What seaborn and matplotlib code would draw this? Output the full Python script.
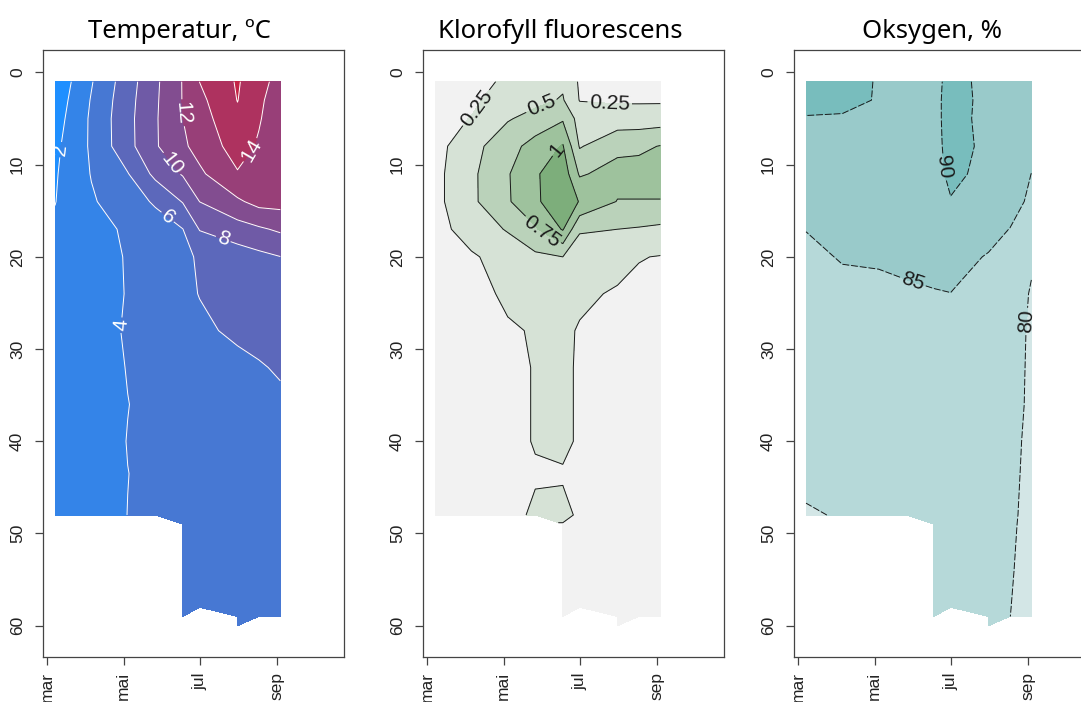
import numpy as np
import matplotlib
matplotlib.use("Agg")
import matplotlib.pyplot as plt
import seaborn as sns

N = np.nan

# sampling dates as month number (3 = 1 March) and sampling depths (m)
sample_month = [3.21, 4.16, 5.11, 5.83, 6.55, 6.99, 7.98, 8.54, 9.10]
depth = [1, 3, 5, 8, 11, 14, 17, 20, 24, 28, 32, 36, 40, 43.5, 48, 49, 54, 58, 59, 60]
month_ticks = [3, 5, 7, 9]
month_labels = ["mar", "mai", "jul", "sep"]
depth_ticks = [0, 10, 20, 30, 40, 50, 60]

# rows = depth, columns = sampling date
temperature = [
    [0.50, 3.86, 7.10, 9.60, 12.10, 14.02, 16.20, 14.70, 13.27],
    [0.82, 4.13, 7.30, 9.70, 12.08, 13.50, 16.05, 14.42, 12.77],
    [1.13, 4.30, 7.42, 9.78, 12.00, 13.13, 15.60, 14.17, 12.73],
    [1.56, 4.28, 7.36, 9.78, 11.67, 12.69, 14.86, 13.77, 12.70],
    [1.81, 4.09, 5.90, 8.50, 10.17, 11.65, 13.85, 13.40, 12.80],
    [1.95, 3.78, 5.14, 6.23, 8.11, 10.02, 11.69, 12.64, 12.70],
    [2.30, 3.28, 4.30, 5.14, 5.97, 8.10, 9.14, 9.72, 10.30],
    [2.40, 3.25, 4.12, 4.91, 5.71, 6.16, 7.02, 7.50, 7.97],
    [2.50, 3.28, 4.08, 4.86, 5.63, 6.05, 6.60, 6.95, 7.30],
    [2.60, 3.37, 4.15, 4.74, 5.33, 5.70, 6.30, 6.50, 6.76],
    [2.70, 3.38, 4.05, 4.42, 4.80, 5.04, 5.57, 5.87, 6.17],
    [2.80, 3.35, 3.98, 4.30, 4.60, 4.80, 5.20, 5.45, 5.70],
    [2.85, 3.40, 4.03, 4.25, 4.50, 4.70, 5.10, 5.30, 5.50],
    [2.90, 3.45, 3.99, 4.20, 4.45, 4.60, 4.95, 5.15, 5.35],
    [2.95, 3.50, 4.01, 4.20, 4.40, 4.55, 4.90, 5.10, 5.30],
    [N, N, N, N, 4.40, 4.55, 4.88, 5.08, 5.28],
    [N, N, N, N, 4.35, 4.50, 4.80, 5.00, 5.20],
    [N, N, N, N, 4.30, 4.45, 4.75, 4.95, 5.10],
    [N, N, N, N, 4.30, N, 4.75, 4.90, 5.10],
    [N, N, N, N, N, N, 4.70, N, N],
]

klorofyll = [
    [0.10, 0.15, 0.30, 0.38, 0.46, 0.22, 0.15, 0.15, 0.15],
    [0.12, 0.20, 0.38, 0.44, 0.52, 0.24, 0.22, 0.22, 0.22],
    [0.15, 0.26, 0.48, 0.58, 0.72, 0.40, 0.37, 0.37, 0.38],
    [0.16, 0.42, 0.65, 0.85, 1.02, 0.48, 0.68, 0.70, 0.76],
    [0.18, 0.45, 0.73, 0.97, 1.15, 0.72, 0.85, 0.85, 0.85],
    [0.18, 0.45, 0.72, 0.97, 1.12, 0.99, 0.74, 0.74, 0.74],
    [0.16, 0.36, 0.52, 0.72, 1.02, 0.52, 0.50, 0.48, 0.45],
    [0.14, 0.22, 0.35, 0.45, 0.50, 0.40, 0.35, 0.26, 0.24],
    [0.10, 0.15, 0.30, 0.30, 0.35, 0.30, 0.22, 0.20, 0.18],
    [0.10, 0.12, 0.22, 0.27, 0.30, 0.23, 0.15, 0.15, 0.15],
    [0.10, 0.10, 0.15, 0.27, 0.30, 0.22, 0.12, 0.12, 0.12],
    [0.10, 0.10, 0.15, 0.27, 0.30, 0.22, 0.12, 0.12, 0.12],
    [0.10, 0.10, 0.15, 0.27, 0.30, 0.22, 0.12, 0.12, 0.12],
    [0.10, 0.10, 0.15, 0.22, 0.23, 0.20, 0.12, 0.12, 0.12],
    [0.10, 0.10, 0.15, 0.30, 0.30, 0.22, 0.12, 0.12, 0.12],
    [N, N, N, N, 0.24, 0.20, 0.12, 0.12, 0.12],
    [N, N, N, N, 0.15, 0.15, 0.12, 0.12, 0.12],
    [N, N, N, N, 0.12, 0.12, 0.12, 0.12, 0.12],
    [N, N, N, N, 0.12, N, 0.12, 0.12, 0.12],
    [N, N, N, N, N, N, 0.12, N, N],
]

oksygen = [
    [91.5, 91.2, 89.77, 89.5, 89.6, 90.4, 89.67, 89.6, 89.5],
    [91.0, 90.8, 89.8, 89.5, 89.6, 90.5, 89.65, 89.6, 89.3],
    [89.8, 89.7, 89.2, 89.3, 89.6, 90.5, 89.6, 89.5, 88.8],
    [88.5, 88.5, 88.8, 89.0, 89.5, 90.5, 89.7, 89.3, 87.0],
    [87.8, 88.0, 88.4, 88.8, 89.3, 90.4, 89.5, 88.5, 84.95],
    [86.5, 87.0, 87.8, 88.3, 88.8, 89.9, 89.0, 87.0, 84.0],
    [85.1, 86.0, 86.8, 87.3, 87.5, 88.0, 86.5, 84.9, 82.5],
    [84.0, 85.3, 85.4, 85.8, 86.2, 86.5, 84.7, 83.0, 80.5],
    [83.0, 83.8, 84.2, 84.5, 84.8, 84.95, 84.2, 82.0, 79.7],
    [82.5, 83.0, 83.5, 83.8, 84.0, 84.2, 83.8, 81.5, 79.5],
    [82.0, 82.5, 83.0, 83.3, 83.5, 83.6, 83.4, 81.2, 79.5],
    [81.8, 82.0, 82.5, 83.0, 83.2, 83.2, 83.1, 81.0, 79.5],
    [81.5, 81.8, 82.2, 82.6, 82.8, 82.9, 82.8, 80.6, 79.5],
    [81.0, 81.5, 81.8, 82.3, 82.5, 82.6, 82.5, 80.45, 79.5],
    [79.6, 80.3, 81.5, 82.0, 82.2, 82.3, 82.2, 80.3, 79.5],
    [N, N, N, N, 82.2, 82.2, 82.1, 80.25, 79.5],
    [N, N, N, N, 82.0, 82.0, 82.0, 80.12, 79.5],
    [N, N, N, N, 81.8, 81.8, 81.8, 80.03, 79.5],
    [N, N, N, N, 81.8, N, 81.8, 80.01, 79.5],
    [N, N, N, N, N, N, 81.8, N, N],
]

temp_levels = [0, 2, 4, 6, 8, 10, 12, 14, 16, 18]
temp_colors = ["#1f8fff", "#3484e8", "#4778d3", "#5c68bb", "#6f5aa6",
               "#824d90", "#983f78", "#ae325f", "#c42345"]
chl_levels = [0, 0.25, 0.5, 0.75, 1.0, 1.25]
chl_colors = ["#f2f2f2", "#d6e2d6", "#bad2ba", "#9ec29d", "#7dae7b"]
oxy_levels = [75, 80, 85, 90, 95]
oxy_colors = ["#d3e6e6", "#b6d9d9", "#99caca", "#78bdbd"]

sns.set_theme(style="white")
plt.rcParams["font.family"] = ["Liberation Sans", "DejaVu Sans"]

W, H = 1081, 702
fig = plt.figure(figsize=(W / 100, H / 100), dpi=100)
fig.patch.set_facecolor("white")

X = np.array(sample_month)
Y = np.array(depth)

panels = [
    dict(data=temperature, levels=temp_levels, colors=temp_colors,
         lines=[2, 4, 6, 8, 10, 12, 14, 16], lcol="white", ls="solid",
         lab=[2, 4, 6, 8, 10, 12, 14],
         pos=[(3.42, 8.4), (4.9, 27.4), (6.13, 15.8), (7.57, 18.5),
              (6.26, 9.9), (6.42, 4.4), (8.09, 7.7)],
         left=43, title="Temperatur, ºC", tx=179),
    dict(data=klorofyll, levels=chl_levels, colors=chl_colors,
         lines=[0.25, 0.5, 0.75, 1.0], lcol="#1a1a1a", ls="solid",
         lab=[0.25, 0.5, 0.75, 1.0],
         pos=[(4.38, 4.1), (5.99, 3.6), (7.77, 3.75), (6.38, 8.3), (5.95, 17.6)],
         left=423, title="Klorofyll fluorescens", tx=560),
    dict(data=oksygen, levels=oxy_levels, colors=oxy_colors,
         lines=[80, 85, 90], lcol="#1a1a1a", ls=(0, (7, 2)),
         lab=[80, 85, 90],
         pos=[(6.70, 10.3), (6.0, 22.7), (8.97, 27.0)],
         left=794, title="Oksygen, %", tx=932),
]

for p in panels:
    ax = fig.add_axes([p["left"] / W, (H - 657) / H, 301 / W, (657 - 50) / H])
    Z = np.ma.masked_invalid(np.array(p["data"], dtype=float))
    ax.contourf(X, Y, Z, levels=p["levels"], colors=p["colors"], corner_mask=True)
    cs = ax.contour(X, Y, Z, levels=p["lines"], colors=p["lcol"],
                    linewidths=0.7, linestyles=[p["ls"]], corner_mask=True)
    ax.set_xlim(2.895, 10.764)
    ax.set_ylim(63.4, -2.44)
    ax.clabel(cs, levels=p["lab"], manual=p["pos"], inline=True, inline_spacing=2,
              fmt=lambda v: f"{v:g}", fontsize=15, colors=p["lcol"])
    ax.set_xticks(month_ticks)
    ax.set_xticklabels(month_labels, rotation=90, ha="center", va="top")
    ax.set_yticks(depth_ticks)
    ax.set_yticklabels([str(t) for t in depth_ticks], rotation=90, va="center")
    ax.tick_params(axis="both", direction="out", length=6, width=0.9,
                   color="#444444", labelsize=12.5, labelcolor="#222222",
                   bottom=True, left=True)
    ax.tick_params(axis="x", pad=5)
    ax.tick_params(axis="y", pad=7)
    for s in ax.spines.values():
        s.set_color("#444444")
        s.set_linewidth(0.9)
        s.set_visible(True)
    ax.set_facecolor("white")
    ax.grid(False)
    fig.text(p["tx"] / W, 1 - 38 / H, p["title"], ha="center", va="baseline",
             fontsize=18.5, family=["Noto Sans", "DejaVu Sans"], color="black")

fig.savefig("out.png", dpi=100, facecolor="white")
